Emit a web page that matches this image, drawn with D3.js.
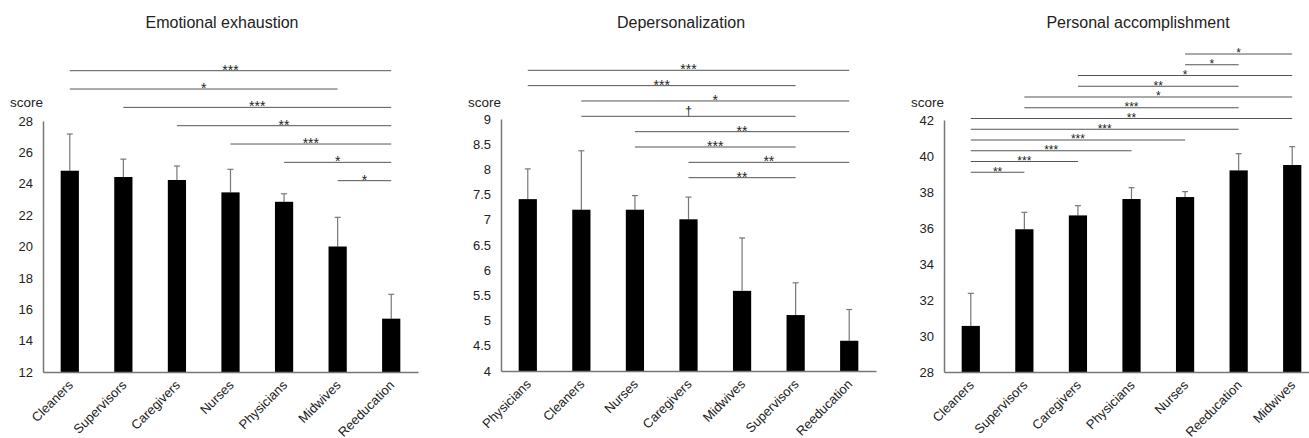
<!DOCTYPE html>
<html>
<head>
<meta charset="utf-8">
<script src="https://cdn.jsdelivr.net/npm/d3@7"></script>
<style>
  body { margin: 0; background: #fff; }
  svg { font-family: 'Liberation Sans', Arial, sans-serif; }
</style>
</head>
<body>
<svg id="chart"></svg>
<script>
// --- data ---
let eeGroups = ['Cleaners', 'Supervisors', 'Caregivers', 'Nurses', 'Physicians', 'Midwives', 'Reeducation']
let eeMeans = [24.83, 24.43, 24.24, 23.45, 22.85, 20.0, 15.4]
let eeErr = [27.17, 25.57, 25.13, 24.92, 23.36, 21.86, 16.95]
let eeTicks = [12, 14, 16, 18, 20, 22, 24, 26, 28]
let eeSig = [
  ['Cleaners', 'Reeducation', '***'],
  ['Cleaners', 'Midwives', '*'],
  ['Supervisors', 'Reeducation', '***'],
  ['Caregivers', 'Reeducation', '**'],
  ['Nurses', 'Reeducation', '***'],
  ['Physicians', 'Reeducation', '*'],
  ['Midwives', 'Reeducation', '*']
]

let dpGroups = ['Physicians', 'Cleaners', 'Nurses', 'Caregivers', 'Midwives', 'Supervisors', 'Reeducation']
let dpMeans = [7.41, 7.2, 7.2, 7.01, 5.59, 5.11, 4.6]
let dpErr = [8.01, 8.37, 7.48, 7.45, 6.64, 5.75, 5.22]
let dpTicks = [4, 4.5, 5, 5.5, 6, 6.5, 7, 7.5, 8, 8.5, 9]
let dpSig = [
  ['Physicians', 'Reeducation', '***'],
  ['Physicians', 'Supervisors', '***'],
  ['Cleaners', 'Reeducation', '*'],
  ['Cleaners', 'Supervisors', '†'],
  ['Nurses', 'Reeducation', '**'],
  ['Nurses', 'Supervisors', '***'],
  ['Caregivers', 'Reeducation', '**'],
  ['Caregivers', 'Supervisors', '**']
]

let paGroups = ['Cleaners', 'Supervisors', 'Caregivers', 'Physicians', 'Nurses', 'Reeducation', 'Midwives']
let paMeans = [30.56, 35.93, 36.7, 37.61, 37.72, 39.2, 39.5]
let paErr = [32.37, 36.87, 37.24, 38.24, 38.02, 40.13, 40.52]
let paTicks = [28, 30, 32, 34, 36, 38, 40, 42]
let paSig = [
  ['Nurses', 'Midwives', '*'],
  ['Nurses', 'Reeducation', '*'],
  ['Caregivers', 'Midwives', '*'],
  ['Caregivers', 'Reeducation', '**'],
  ['Supervisors', 'Midwives', '*'],
  ['Supervisors', 'Reeducation', '***'],
  ['Cleaners', 'Midwives', '**'],
  ['Cleaners', 'Reeducation', '***'],
  ['Cleaners', 'Nurses', '***'],
  ['Cleaners', 'Physicians', '***'],
  ['Cleaners', 'Caregivers', '***'],
  ['Cleaners', 'Supervisors', '**']
]

let width = 1309
let height = 438

let svg = d3.select('#chart')
  .attr('width', width)
  .attr('height', height)

let panels = [
  { title: 'Emotional exhaustion', titleX: 222, x0: 43, top: 121, base: 372,
    groups: eeGroups, means: eeMeans, err: eeErr, ticks: eeTicks, sig: eeSig,
    sigTop: 70.7, sigStep: 18.33, starSize: 14 },
  { title: 'Depersonalization', titleX: 681, x0: 501, top: 119, base: 371,
    groups: dpGroups, means: dpMeans, err: dpErr, ticks: dpTicks, sig: dpSig,
    sigTop: 70.3, sigStep: 15.34, starSize: 14 },
  { title: 'Personal accomplishment', titleX: 1138, x0: 944, top: 120, base: 372,
    groups: paGroups, means: paMeans, err: paErr, ticks: paTicks, sig: paSig,
    sigTop: 54, sigStep: 10.75, starSize: 12 }
]

let drawPanel = (p) => {
  let g = svg.append('g')
  let plotW = 375

  let xScale = d3.scaleBand()
    .domain(p.groups)
    .range([p.x0, p.x0 + plotW])
    .paddingInner(0.66)
    .paddingOuter(0.33)
  let yScale = d3.scaleLinear()
    .domain([p.ticks[0], p.ticks[p.ticks.length - 1]])
    .range([p.base, p.top])

  let cx = (name) => xScale(name) + xScale.bandwidth() / 2

  // title
  g.append('text')
    .attr('x', p.titleX)
    .attr('y', 28)
    .attr('text-anchor', 'middle')
    .attr('font-size', 16)
    .attr('fill', '#222')
    .text(p.title)

  // score label
  g.append('text')
    .attr('x', p.x0)
    .attr('y', 107)
    .attr('text-anchor', 'end')
    .attr('font-size', 13.5)
    .attr('fill', '#222')
    .text('score')

  // error bars
  let err = g.selectAll('.err')
    .data(p.groups)
    .enter()
    .append('g')
  err.append('line')
    .attr('x1', (d) => cx(d))
    .attr('x2', (d) => cx(d))
    .attr('y1', (d, i) => yScale(p.means[i]))
    .attr('y2', (d, i) => yScale(p.err[i]))
    .attr('stroke', '#777')
    .attr('stroke-width', 1.2)
  err.append('line')
    .attr('x1', (d) => cx(d) - 3)
    .attr('x2', (d) => cx(d) + 3)
    .attr('y1', (d, i) => yScale(p.err[i]))
    .attr('y2', (d, i) => yScale(p.err[i]))
    .attr('stroke', '#777')
    .attr('stroke-width', 1.2)

  // bars
  g.selectAll('.bar')
    .data(p.groups)
    .enter()
    .append('rect')
    .attr('x', (d) => xScale(d))
    .attr('y', (d, i) => yScale(p.means[i]))
    .attr('width', xScale.bandwidth())
    .attr('height', (d, i) => p.base - yScale(p.means[i]))
    .attr('fill', '#000')

  // y axis
  let yAxis = d3.axisLeft(yScale)
    .tickValues(p.ticks)
    .tickSize(0)
    .tickPadding(10)
    .tickFormat(d3.format('~g'))
  let ya = g.append('g')
    .attr('transform', 'translate(' + p.x0 + ', 0)')
    .call(yAxis)
  ya.select('.domain').attr('stroke', '#777').attr('stroke-width', 1.5)
  ya.selectAll('text')
    .attr('font-size', 13)
    .attr('font-family', 'Liberation Sans, Arial, sans-serif')
    .attr('fill', '#222')

  // x axis
  let xAxis = d3.axisBottom(xScale).tickSize(0).tickSizeOuter(0)
  let xa = g.append('g')
    .attr('transform', 'translate(0, ' + p.base + ')')
    .call(xAxis)
  xa.select('.domain').attr('stroke', '#777').attr('stroke-width', 1.5)
  xa.selectAll('text')
    .attr('font-size', 13)
    .attr('font-family', 'Liberation Sans, Arial, sans-serif')
    .attr('fill', '#222')
    .attr('text-anchor', 'end')
    .attr('dy', 0)
    .attr('y', 0)
    .attr('transform', 'translate(4, 14) rotate(-45)')

  // significance lines
  let sig = g.selectAll('.sig')
    .data(p.sig)
    .enter()
    .append('g')
  sig.append('line')
    .attr('x1', (d) => cx(d[0]))
    .attr('x2', (d) => cx(d[1]))
    .attr('y1', (d, i) => p.sigTop + i * p.sigStep)
    .attr('y2', (d, i) => p.sigTop + i * p.sigStep)
    .attr('stroke', '#555')
    .attr('stroke-width', 1)
  sig.append('text')
    .attr('x', (d) => (cx(d[0]) + cx(d[1])) / 2)
    .attr('y', (d, i) => p.sigTop + i * p.sigStep + (d[2] == '†' ? -1 : p.starSize * 0.28))
    .attr('text-anchor', 'middle')
    .attr('font-size', (d) => d[2] == '†' ? 12 : p.starSize)
    .attr('fill', '#222')
    .text((d) => d[2])
}

panels.forEach(drawPanel)
</script>
</body>
</html>
